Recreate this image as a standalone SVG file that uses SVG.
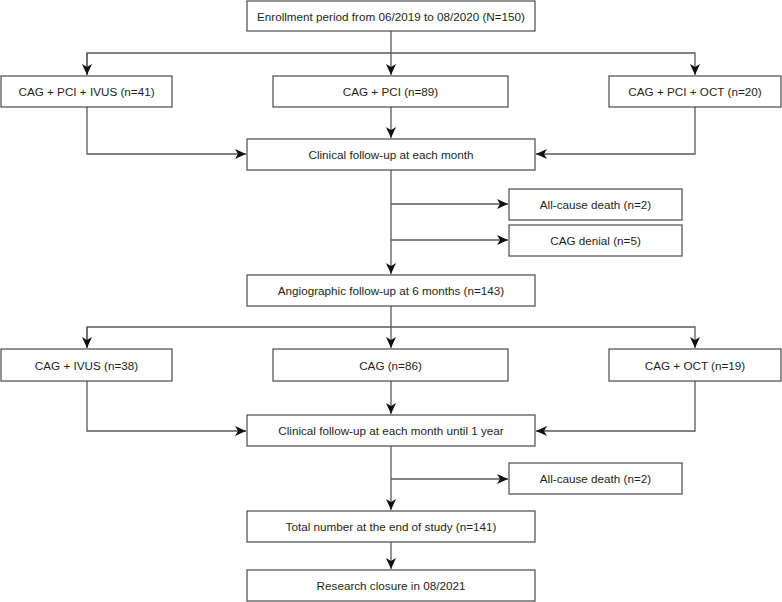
<svg xmlns="http://www.w3.org/2000/svg" width="782" height="602" viewBox="0 0 782 602">
<style>
.box{fill:#fff;stroke:#4a4a4a;stroke-width:1.2}
.t{font-family:"Liberation Sans",Arial,sans-serif;font-size:11.7px;fill:#231f20;text-anchor:middle;dominant-baseline:central}
.c{fill:none;stroke:#5a5a5a;stroke-width:1.3}
</style>
<defs>
<marker id="ah" markerUnits="userSpaceOnUse" markerWidth="12" markerHeight="10" viewBox="0 0 12 10" refX="11" refY="5" orient="auto">
<path d="M0,0 L11,5 L0,10 L3,5 z" fill="#111"/>
</marker>
</defs>
<g id="connectors">
<path class="c" d="M391,31 V75" marker-end="url(#ah)"/>
<path class="c" d="M87,75 V53 H695 V75" marker-end="url(#ah)"/>
<path class="c" d="M87,53 V75" marker-end="url(#ah)"/>
<path class="c" d="M391,107 V138" marker-end="url(#ah)"/>
<path class="c" d="M87,107 V154 H246" marker-end="url(#ah)"/>
<path class="c" d="M695,107 V154 H536" marker-end="url(#ah)"/>
<path class="c" d="M391,170 V274" marker-end="url(#ah)"/>
<path class="c" d="M391,204 H508" marker-end="url(#ah)"/>
<path class="c" d="M391,240 H508" marker-end="url(#ah)"/>
<path class="c" d="M391,306 V348" marker-end="url(#ah)"/>
<path class="c" d="M87,348 V327 H695 V348" marker-end="url(#ah)"/>
<path class="c" d="M87,327 V348" marker-end="url(#ah)"/>
<path class="c" d="M391,381 V414" marker-end="url(#ah)"/>
<path class="c" d="M87,381 V431 H246" marker-end="url(#ah)"/>
<path class="c" d="M695,381 V431 H536" marker-end="url(#ah)"/>
<path class="c" d="M391,446 V510" marker-end="url(#ah)"/>
<path class="c" d="M391,479 H508" marker-end="url(#ah)"/>
<path class="c" d="M391,542 V569" marker-end="url(#ah)"/>
</g>
<g id="n_enroll"><rect class="box" x="247" y="1" width="288" height="30"/><text class="t" x="391" y="16">Enrollment period from 06/2019 to 08/2020 (N=150)</text></g>
<g id="n_ivus1"><rect class="box" x="1" y="76" width="171" height="31"/><text class="t" x="86.5" y="91.5">CAG + PCI + IVUS (n=41)</text></g>
<g id="n_pci"><rect class="box" x="273" y="76" width="235" height="31"/><text class="t" x="390.5" y="91.5">CAG + PCI (n=89)</text></g>
<g id="n_oct1"><rect class="box" x="609" y="76" width="172" height="31"/><text class="t" x="695" y="91.5">CAG + PCI + OCT (n=20)</text></g>
<g id="n_clin1"><rect class="box" x="247" y="139" width="288" height="31"/><text class="t" x="391" y="154.5">Clinical follow-up at each month</text></g>
<g id="n_death1"><rect class="box" x="509" y="189" width="173" height="31"/><text class="t" x="595.5" y="204.5">All-cause death (n=2)</text></g>
<g id="n_denial"><rect class="box" x="509" y="225" width="173" height="31"/><text class="t" x="595.5" y="240.5">CAG denial (n=5)</text></g>
<g id="n_angio"><rect class="box" x="247" y="275" width="288" height="31"/><text class="t" x="391" y="290.5">Angiographic follow-up at 6 months (n=143)</text></g>
<g id="n_ivus2"><rect class="box" x="1" y="349" width="171" height="32"/><text class="t" x="86.5" y="365">CAG + IVUS (n=38)</text></g>
<g id="n_cag"><rect class="box" x="273" y="349" width="235" height="32"/><text class="t" x="390.5" y="365">CAG (n=86)</text></g>
<g id="n_oct2"><rect class="box" x="609" y="349" width="172" height="32"/><text class="t" x="695" y="365">CAG + OCT (n=19)</text></g>
<g id="n_clin2"><rect class="box" x="247" y="415" width="288" height="31"/><text class="t" x="391" y="430.5">Clinical follow-up at each month until 1 year</text></g>
<g id="n_death2"><rect class="box" x="509" y="463" width="173" height="31"/><text class="t" x="595.5" y="478.5">All-cause death (n=2)</text></g>
<g id="n_total"><rect class="box" x="247" y="511" width="288" height="31"/><text class="t" x="391" y="526.5">Total number at the end of study (n=141)</text></g>
<g id="n_close"><rect class="box" x="247" y="570" width="288" height="31"/><text class="t" x="391" y="585.5">Research closure in 08/2021</text></g>
</svg>
